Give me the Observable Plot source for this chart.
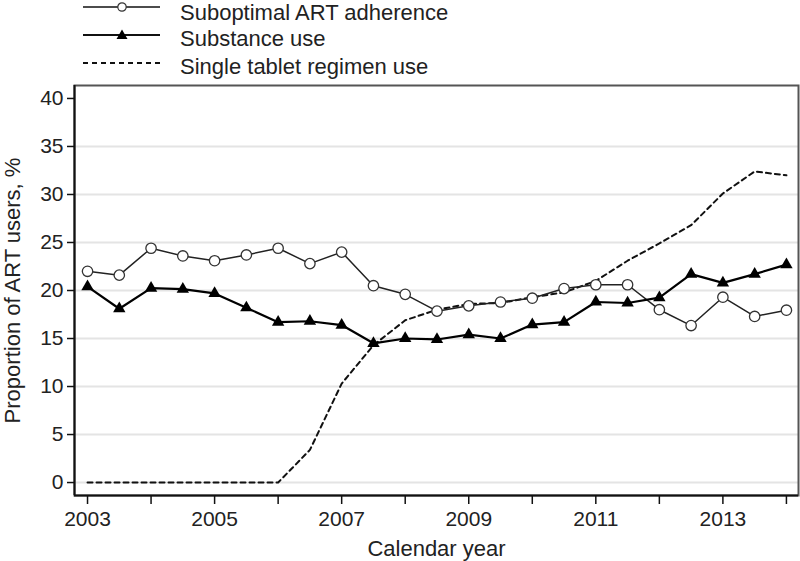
<!DOCTYPE html>
<html>
<head>
<meta charset="utf-8">
<script src="https://cdn.jsdelivr.net/npm/d3@7"></script>
<script src="https://cdn.jsdelivr.net/npm/@observablehq/plot@0.6"></script>
<style>
  html, body { margin: 0; padding: 0; background: white; }
  #wrap { width: 800px; height: 561px; position: relative; font-family: "Liberation Sans", Arial, sans-serif; color: #222; }
  #legend { position: relative; width: 800px; height: 75px; }
  .row { position: absolute; left: 0; height: 28px; width: 800px; }
  .row svg { position: absolute; left: 80px; }
  .row span { position: absolute; left: 180px; line-height: normal; font-size: 22px; white-space: nowrap; }
</style>
</head>
<body>
<div id="wrap">
  <div id="legend"></div>
  <div id="chart"></div>
</div>
<script>
// ---- data ----
const years = [2003, 2003.5, 2004, 2004.5, 2005, 2005.5, 2006, 2006.5, 2007, 2007.5, 2008, 2008.5,
               2009, 2009.5, 2010, 2010.5, 2011, 2011.5, 2012, 2012.5, 2013, 2013.5, 2014];
const suboptimal = [22.0, 21.6, 24.4, 23.6, 23.1, 23.7, 24.4, 22.8, 24.0, 20.5, 19.6, 17.85,
                    18.4, 18.8, 19.2, 20.2, 20.6, 20.6, 18.0, 16.35, 19.3, 17.3, 17.95];
const substance = [20.4, 18.1, 20.25, 20.15, 19.7, 18.2, 16.7, 16.8, 16.4, 14.5, 15.0, 14.9,
                   15.4, 15.0, 16.45, 16.7, 18.8, 18.7, 19.25, 21.7, 20.8, 21.7, 22.7];
const singleTablet = [0, 0, 0, 0, 0, 0, 0, 3.4, 10.3, 14.3, 16.9, 18.0,
                      18.6, 18.7, 19.3, 19.8, 21.0, 23.1, 24.9, 26.8, 30.1, 32.4, 32.0];
const seriesNames = ["Suboptimal ART adherence", "Substance use", "Single tablet regimen use"];
const xTicks = [2003, 2004, 2005, 2006, 2007, 2008, 2009, 2010, 2011, 2012, 2013, 2014];
const xTickLabels = [2003, 2005, 2007, 2009, 2011, 2013];
const yTicks = [0, 5, 10, 15, 20, 25, 30, 35, 40];
const yGrid = [0, 5, 10, 15, 20, 25, 30, 35];
const xDomain = [2002.795, 2014.19];
const yDomain = [-1.35, 41.35];

const subData = years.map((x, i) => ({x, y: suboptimal[i]}));
const useData = years.map((x, i) => ({x, y: substance[i]}));
const stData = years.map((x, i) => ({x, y: singleTablet[i]}));

// ---- legend ----
const legend = document.getElementById("legend");
const rowCenters = [7, 35, 63];
const legendItems = [
  {name: seriesNames[0], marker: "circle", sw: 1.5, dash: null},
  {name: seriesNames[1], marker: "triangle", sw: 2.2, dash: null},
  {name: seriesNames[2], marker: null, sw: 2, dash: "5,4"}
];
legendItems.forEach((it, i) => {
  const row = document.createElement("div");
  row.className = "row";
  row.style.top = "0px";
  const c = rowCenters[i];
  let m = "";
  if (it.marker === "circle") m = `<circle cx="42" cy="10" r="4.2" fill="white" stroke="#333" stroke-width="1.2"/>`;
  if (it.marker === "triangle") m = `<path d="M42,4.5 L47.5,14 L36.5,14 Z" fill="#000"/>`;
  row.innerHTML = `<svg width="84" height="20" style="top:${c - 10}px"><line x1="3" x2="80" y1="10" y2="10" stroke="#111" stroke-width="${it.sw}" ${it.dash ? `stroke-dasharray="${it.dash}"` : ""}/>${m}</svg><span style="top:${Math.max(0, c - 8.6)}px">${it.name}</span>`;
  legend.appendChild(row);
});

// ---- chart ----
const chart = Plot.plot({
  width: 800,
  height: 486,
  marginTop: 10,
  marginBottom: 66,
  marginLeft: 74,
  marginRight: 2,
  x: {domain: xDomain},
  y: {domain: yDomain},
  style: {fontFamily: "'Liberation Sans', Arial, sans-serif", fontSize: "21px", color: "#222", background: "white", overflow: "visible"},
  marks: [
    Plot.gridY(yGrid, {stroke: "#e4e4e4", strokeOpacity: 1, strokeWidth: 2}),
    Plot.frame({stroke: "#555", strokeWidth: 2}),
    Plot.ruleX([xDomain[0]], {stroke: "#111", strokeWidth: 2}),
    Plot.ruleY([yDomain[0]], {stroke: "#111", strokeWidth: 2}),
    Plot.lineY(stData, {x: "x", y: "y", stroke: "#111", strokeWidth: 2, strokeDasharray: "5,4"}),
    Plot.lineY(subData, {x: "x", y: "y", stroke: "#222", strokeWidth: 1.5}),
    Plot.lineY(useData, {x: "x", y: "y", stroke: "#000", strokeWidth: 2.2}),
    Plot.dot(subData, {x: "x", y: "y", r: 5.2, fill: "white", stroke: "#333", strokeWidth: 1.3}),
    Plot.dot(useData, {x: "x", y: "y", r: 4.6, symbol: "triangle", fill: "#000", stroke: "none"}),
    Plot.axisY({ticks: yTicks, tickSize: 7, tickPadding: 4, stroke: "#111", strokeWidth: 1.5, fontSize: 21, label: null}),
    Plot.axisY({ticks: [], label: "Proportion of ART users, %", labelAnchor: "center", labelArrow: "none", labelOffset: 70, fontSize: 22}),
    Plot.axisX({ticks: xTicks, tickSize: 9, tickPadding: 7, stroke: "#111", strokeWidth: 1.5, fontSize: 21,
                tickFormat: d => xTickLabels.includes(d) ? String(d) : "", label: null}),
    Plot.axisX({ticks: [], label: "Calendar year", labelAnchor: "center", labelArrow: "none", labelOffset: 60, fontSize: 22})
  ]
});
document.getElementById("chart").appendChild(chart);
</script>
</body>
</html>
